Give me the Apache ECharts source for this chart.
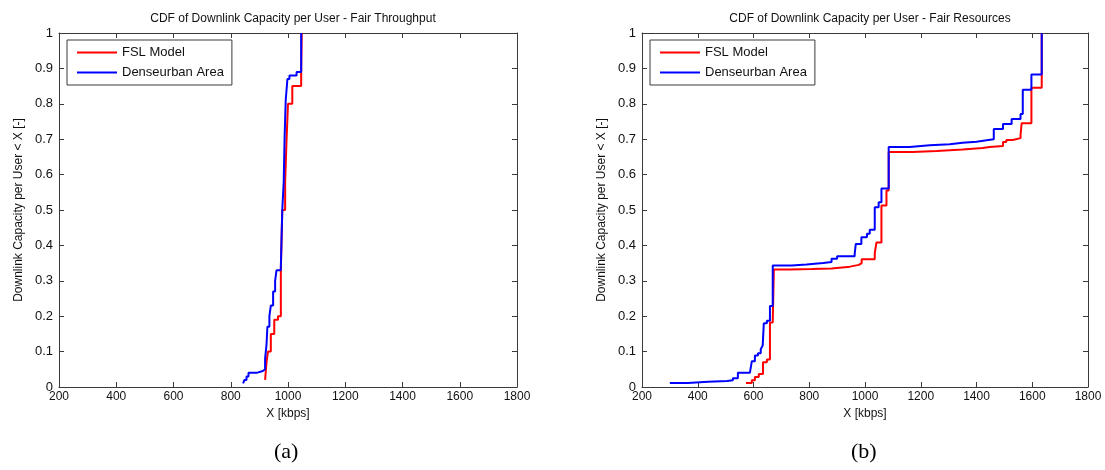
<!DOCTYPE html>
<html>
<head>
<meta charset="utf-8">
<script src="https://cdn.jsdelivr.net/npm/echarts@6/dist/echarts.min.js"></script>
<style>
  html, body { margin: 0; padding: 0; background: #fff; }
  #chart { width: 1105px; height: 470px; }
</style>
</head>
<body>
<div id="chart"></div>
<script>
// tick labels
const xTicks = [200, 400, 600, 800, 1000, 1200, 1400, 1600, 1800]
const yTicks = [0, 0.1, 0.2, 0.3, 0.4, 0.5, 0.6, 0.7, 0.8, 0.9, 1]
const seriesNames = ['FSL Model', 'Denseurban Area']
const panelTitles = [
    'CDF of Downlink Capacity per User - Fair Throughput',
    'CDF of Downlink Capacity per User - Fair Resources',
]
const panelCaptions = ['(a)', '(b)']

// [x kbps, CDF value after the step]
const throughputFsl = [
    [920, 0.02], [925, 0.07], [930, 0.1], [940, 0.15], [952, 0.19], [965, 0.2],
    [975, 0.33], [980, 0.5], [990, 0.58], [995, 0.7], [1000, 0.8], [1015, 0.85],
    [1046, 0.86], [1046, 0.89], [1048, 1],
]
const throughputDense = [
    [843, 0.01], [848, 0.02], [855, 0.03], [862, 0.04], [890, 0.045], [912, 0.05],
    [920, 0.08], [925, 0.12], [928, 0.17], [935, 0.2], [940, 0.23], [948, 0.27],
    [955, 0.3], [960, 0.33], [975, 0.34], [980, 0.5], [985, 0.58], [988, 0.7],
    [992, 0.81], [998, 0.87], [1005, 0.88], [1030, 0.89], [1046, 0.9], [1046, 1],
]
const resourcesFsl = [
    [573, 0.011], [594, 0.019], [605, 0.028], [619, 0.037], [634, 0.07], [648, 0.078],
    [659, 0.182], [669, 0.187], [673, 0.332], [730, 0.333], [808, 0.335], [880, 0.34],
    [946, 0.345], [978, 0.35], [988, 0.361], [1035, 0.378], [1041, 0.408], [1059, 0.513],
    [1077, 0.555], [1085, 0.664], [1171, 0.667], [1257, 0.671], [1350, 0.675], [1422, 0.678],
    [1447, 0.681], [1495, 0.692], [1507, 0.698], [1530, 0.703], [1558, 0.712], [1562, 0.745],
    [1597, 0.845], [1634, 0.85], [1634, 1],
]
const resourcesDense = [
    [300, 0.011], [365, 0.015], [437, 0.017], [505, 0.019], [526, 0.025], [544, 0.04],
    [587, 0.045], [594, 0.073], [605, 0.089], [616, 0.095], [626, 0.107], [633, 0.117],
    [637, 0.18], [648, 0.187], [659, 0.229], [669, 0.343], [737, 0.346], [790, 0.35],
    [850, 0.353], [880, 0.362], [900, 0.369], [963, 0.376], [967, 0.404], [987, 0.423],
    [1007, 0.433], [1017, 0.444], [1035, 0.508], [1049, 0.522], [1059, 0.561], [1085, 0.678],
    [1160, 0.683], [1232, 0.686], [1304, 0.69], [1350, 0.693], [1400, 0.697], [1436, 0.7],
    [1462, 0.729], [1495, 0.743], [1526, 0.757], [1558, 0.771], [1566, 0.84], [1597, 0.883],
    [1634, 0.892], [1634, 1],
]

const panelData = [
    [throughputFsl, throughputDense],
    [resourcesFsl, resourcesDense],
]
const colors = ['#ff0000', '#0000ff']

const grids = [
    { left: 59, top: 33, width: 458, height: 354 },
    { left: 642, top: 33, width: 446, height: 354 },
]

const fontFamily = '"Liberation Sans", Arial, sans-serif'
const frameColor = '#3a3a3a'

function xAxisFor(gridIndex, top) {
    return {
        type: 'value',
        gridIndex,
        position: top ? 'top' : 'bottom',
        min: xTicks[0],
        max: xTicks[xTicks.length - 1],
        interval: xTicks[1] - xTicks[0],
        name: top ? '' : 'X [kbps]',
        nameLocation: 'middle',
        nameGap: 20,
        nameTextStyle: { color: '#111', fontSize: 12, fontFamily },
        axisLine: { show: true, onZero: false, lineStyle: { color: frameColor, width: 1 } },
        axisTick: { show: true, inside: true, length: 5, lineStyle: { color: frameColor } },
        axisLabel: {
            show: !top,
            color: '#111',
            fontSize: 12,
            margin: 4,
            fontFamily,
            formatter: (v) => String(v),
        },
        splitLine: { show: false },
    }
}

function yAxisFor(gridIndex, right) {
    return {
        type: 'value',
        gridIndex,
        position: right ? 'right' : 'left',
        min: yTicks[0],
        max: yTicks[yTicks.length - 1],
        interval: 0.1,
        name: right ? '' : 'Downlink Capacity per User < X [-]',
        nameLocation: 'middle',
        nameGap: 34,
        nameTextStyle: { color: '#111', fontSize: 12, fontFamily },
        axisLine: { show: true, onZero: false, lineStyle: { color: frameColor, width: 1 } },
        axisTick: { show: true, inside: true, length: 5, lineStyle: { color: frameColor } },
        axisLabel: {
            show: !right,
            color: '#111',
            fontSize: 13,
            margin: 6,
            fontFamily,
            formatter: (v) => String(Math.round(v * 10) / 10),
        },
        splitLine: { show: false },
    }
}

const xAxes = []
const yAxes = []
const series = []
grids.forEach((g, i) => {
    xAxes.push(xAxisFor(i, false), xAxisFor(i, true))
    yAxes.push(yAxisFor(i, false), yAxisFor(i, true))
    panelData[i].forEach((data, k) => {
        series.push({
            name: seriesNames[k],
            type: 'line',
            step: 'end',
            xAxisIndex: i * 2,
            yAxisIndex: i * 2,
            data,
            symbol: 'none',
            lineStyle: { color: colors[k], width: 2 },
            itemStyle: { color: colors[k] },
            z: 2 + k,
        })
    })
})

const legends = grids.map((g) => ({
    data: seriesNames,
    orient: 'vertical',
    left: g.left + 8,
    top: g.top + 7,
    backgroundColor: '#fff',
    borderColor: frameColor,
    borderWidth: 1,
    borderRadius: 0,
    padding: [6, 8, 6, 10],
    itemGap: 7,
    itemWidth: 40,
    itemHeight: 2,
    icon: 'rect',
    selectedMode: false,
    textStyle: { color: '#111', fontSize: 13, fontFamily },
}))

const titles = grids.map((g, i) => ({
    text: panelTitles[i],
    left: g.left + g.width / 2,
    top: 8,
    textAlign: 'center',
    textStyle: { color: '#111', fontSize: 12, fontWeight: 'normal', fontFamily },
}))

const option = {
    animation: false,
    backgroundColor: '#fff',
    title: titles,
    legend: legends,
    grid: grids,
    xAxis: xAxes,
    yAxis: yAxes,
    series,
    graphic: grids.map((g, i) => ({
        type: 'text',
        left: g.left + g.width / 2 - 14,
        top: 441,
        style: {
            text: panelCaptions[i],
            fill: '#000',
            font: '22px "Liberation Serif", "Times New Roman", serif',
        },
    })),
}

const chart = echarts.init(document.getElementById('chart'))
chart.setOption(option)
</script>
</body>
</html>
